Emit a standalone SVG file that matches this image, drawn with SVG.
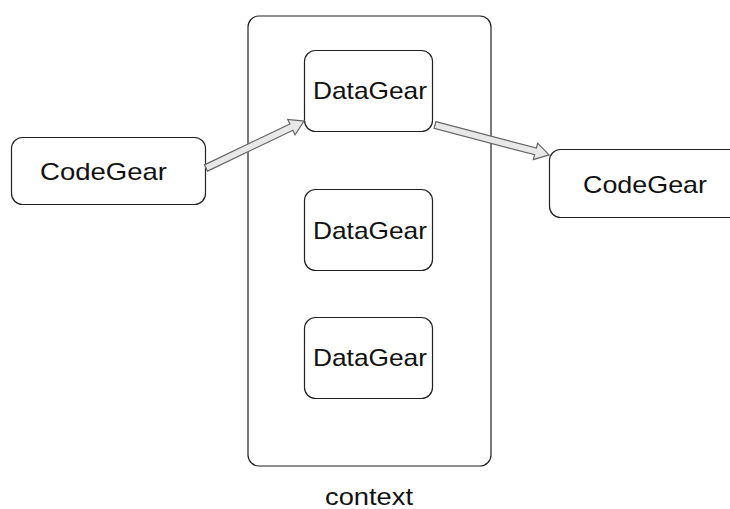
<svg xmlns="http://www.w3.org/2000/svg" width="730" height="509" viewBox="0 0 730 509">
<style>
.box{fill:#fff;stroke:#222;stroke-width:1.2}
.lbl{font-family:"Liberation Sans",Arial,sans-serif;font-size:24px;fill:#111;text-anchor:middle}
.arr{fill:#e8e8e8;stroke:#666;stroke-width:1.2;stroke-linejoin:miter}
</style>
<rect width="730" height="509" fill="#fff"/>
<g id="context">
<rect class="box" x="248" y="16" width="243" height="450" rx="11"/>
<text class="lbl" x="369" y="505" textLength="88" lengthAdjust="spacingAndGlyphs">context</text>
</g>
<g id="datagear1">
<rect class="box" x="304.5" y="50.5" width="128" height="81" rx="11"/>
<text class="lbl" x="370" y="99" textLength="114" lengthAdjust="spacingAndGlyphs">DataGear</text>
</g>
<g id="datagear2">
<rect class="box" x="304.5" y="189.5" width="128" height="81" rx="11"/>
<text class="lbl" x="370" y="239" textLength="114" lengthAdjust="spacingAndGlyphs">DataGear</text>
</g>
<g id="datagear3">
<rect class="box" x="304.5" y="317.5" width="128" height="81" rx="11"/>
<text class="lbl" x="370" y="366" textLength="114" lengthAdjust="spacingAndGlyphs">DataGear</text>
</g>
<g id="codegear-left">
<rect class="box" x="11.5" y="137.5" width="194" height="67" rx="11"/>
<text class="lbl" x="103.5" y="180" textLength="127" lengthAdjust="spacingAndGlyphs">CodeGear</text>
</g>
<g id="codegear-right">
<rect class="box" x="549.5" y="149.5" width="200" height="68" rx="11"/>
<text class="lbl" x="645" y="193" textLength="124" lengthAdjust="spacingAndGlyphs">CodeGear</text>
</g>
<g id="connectors">
<polygon class="arr" transform="translate(206,168) rotate(-25.6)" points="0,-3.5 94.7,-3.5 94.7,-8.5 108.7,0 94.7,8.5 94.7,3.5 0,3.5"/>
<polygon class="arr" transform="translate(435,125) rotate(14.7)" points="0,-3.5 103.9,-3.5 103.9,-8.5 117.9,0 103.9,8.5 103.9,3.5 0,3.5"/>
</g>
</svg>
